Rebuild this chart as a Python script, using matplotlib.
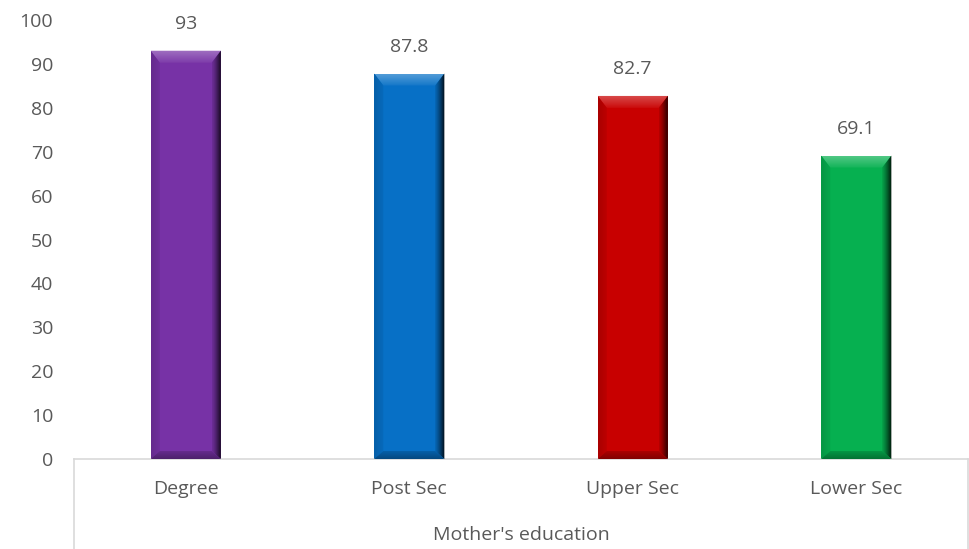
import numpy as np
import matplotlib
matplotlib.use("Agg")
import matplotlib.pyplot as plt
from matplotlib.patches import Polygon
from matplotlib.colors import to_rgb

categories = ["Degree", "Post Sec", "Upper Sec", "Lower Sec"]
values = [93, 87.8, 82.7, 69.1]
labels = ["93", "87.8", "82.7", "69.1"]
colors = ["#7732A6", "#0770C6", "#C80000", "#06B050"]
axis_title = "Mother's education"

plt.rcParams['font.family'] = ['Open Sans', 'DejaVu Sans']
text_color = "#595959"
fsize = 14
px = 0.72  # points per pixel at dpi 100

fig = plt.figure(figsize=(9.7, 5.49), dpi=100)
ax = fig.add_axes([74 / 970, 1 - 459 / 549, (968 - 74) / 970, 439 / 549])

x = np.arange(len(categories))
bars = ax.bar(x, values, width=0.314, color=colors, zorder=2)

ax.set_xlim(-0.5, len(categories) - 0.5)
ax.set_ylim(0, 100)
ax.set_yticks(np.arange(0, 101, 10))
ax.set_xticks([])
ax.tick_params(axis='y', length=0, pad=15, labelsize=fsize, labelcolor=text_color)
for side in ["top", "right", "left"]:
    ax.spines[side].set_visible(False)
ax.spines["bottom"].set_color("#D9D9D9")
ax.spines["bottom"].set_linewidth(1.2)


def shade(c, f):
    c = np.array(to_rgb(c))
    if f >= 0:
        return tuple(c + (1 - c) * f)
    return tuple(c * (1 + f))


def gradient_piece(poly, cols, extent):
    im = ax.imshow(cols, extent=extent, origin='lower', aspect='auto', zorder=3,
                   interpolation='bilinear')
    ax.add_patch(poly)
    poly.set_visible(False)
    im.set_clip_path(poly)


# bevel effect on each bar
ypx = 100 / 439.0
g = np.linspace(0, 1, 20)
for b, c in zip(bars, colors):
    x0, w, h = b.get_x(), b.get_width(), b.get_height()
    x1 = x0 + w
    bx = w * 0.13
    by = 12 * ypx
    bb = 8 * ypx

    top = Polygon([(x0, h), (x1, h), (x1 - bx, h - by), (x0 + bx, h - by)], closed=True)
    cols = np.array([shade(c, 0.05 + 0.25 * t) for t in g])[:, None, :]
    gradient_piece(top, cols, (x0, x1, h - by, h))

    right = Polygon([(x1, h), (x1, 0), (x1 - bx, bb), (x1 - bx, h - by)], closed=True)
    cols = np.array([shade(c, -0.1 - 0.8 * t ** 1.3) for t in g])[None, :, :]
    gradient_piece(right, cols, (x1 - bx, x1, 0, h))

    left = Polygon([(x0, h), (x0, 0), (x0 + bx, bb), (x0 + bx, h - by)], closed=True)
    cols = np.array([shade(c, -0.05 - 0.1 * (1 - t)) for t in g])[None, :, :]
    gradient_piece(left, cols, (x0, x0 + bx, 0, h))

    bottom = Polygon([(x0, 0), (x1, 0), (x1 - bx, bb), (x0 + bx, bb)], closed=True)
    cols = np.array([shade(c, -0.15 - 0.2 * (1 - t)) for t in g])[:, None, :]
    gradient_piece(bottom, cols, (x0, x1, 0, bb))

# value labels
for xi, v, lab in zip(x, values, labels):
    ax.annotate(lab, xy=(xi, v), xytext=(0, 27 * px), textcoords='offset points',
                ha='center', va='center', fontsize=fsize, color=text_color)

# category labels
for xi, cat in zip(x, categories):
    ax.annotate(cat, xy=(xi, 0), xycoords=('data', 'axes fraction'),
                xytext=(0, -30 * px), textcoords='offset points',
                ha='center', va='center', fontsize=fsize, color=text_color)

ax.annotate(axis_title, xy=(0.5, 0), xycoords='axes fraction',
            xytext=(0, -76 * px), textcoords='offset points',
            ha='center', va='center', fontsize=fsize, color=text_color)

# side lines of the category area
for xa in (0, 1):
    ax.plot([xa, xa], [0, -92 / 439], transform=ax.transAxes, color="#D9D9D9",
            lw=1.2, clip_on=False)

fig.savefig("out.png", dpi=100)
